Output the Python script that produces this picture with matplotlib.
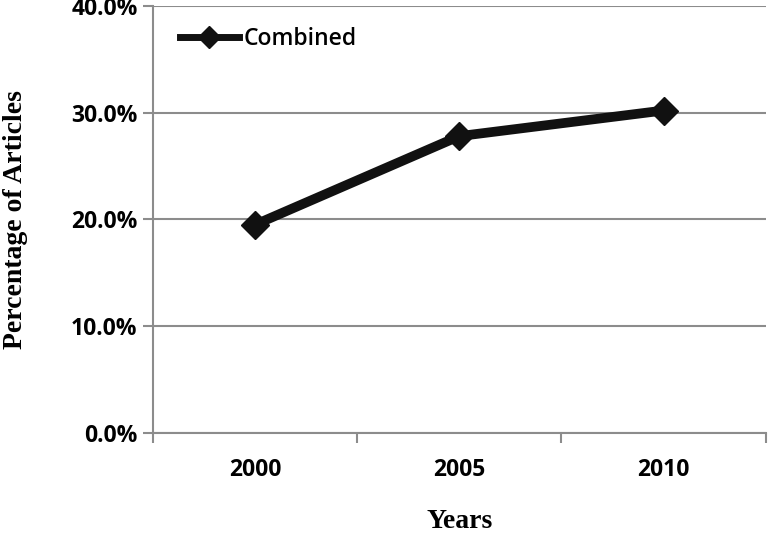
import matplotlib
matplotlib.use("Agg")
import matplotlib.pyplot as plt
from matplotlib.ticker import FuncFormatter, FixedLocator

years = ["2000", "2005", "2010"]
combined = [19.5, 27.8, 30.2]
yticks = [0, 10, 20, 30, 40]

fig = plt.figure(figsize=(7.68, 5.39), dpi=100)
ax = fig.add_axes([0.199, 0.197, 0.798, 0.792])

x = list(range(len(years)))
ax.plot(x, combined, color="#111111", lw=7, marker="D", ms=14, label="Combined",
        solid_joinstyle="miter", zorder=3)

ax.set_xlim(-0.5, len(years) - 0.5)
ax.set_ylim(0, 40)
ax.yaxis.set_major_locator(FixedLocator(yticks))
ax.yaxis.set_major_formatter(FuncFormatter(lambda v, p: f"{v:.1f}%"))
ax.grid(axis="y", color="#8c8c8c", lw=1.5)
ax.set_axisbelow(True)

ax.set_xticks(x)
ax.set_xticklabels(years)
ax.set_xticks([i - 0.5 for i in range(len(years) + 1)], minor=True)
ax.tick_params(axis="x", which="major", length=0, pad=18)
ax.tick_params(axis="x", which="minor", length=7, width=1.5, color="#8c8c8c", direction="out")
ax.tick_params(axis="y", length=7, width=1.5, color="#8c8c8c", pad=4)

for s in ["top", "right"]:
    ax.spines[s].set_visible(False)
for s in ["left", "bottom"]:
    ax.spines[s].set_color("#8c8c8c")
    ax.spines[s].set_linewidth(1.5)

for lab in ax.get_xticklabels() + ax.get_yticklabels():
    lab.set_fontfamily("Open Sans")
    lab.set_fontweight("bold")
    lab.set_fontsize(16.5)

ax.set_xlabel("Years", fontfamily="Liberation Serif", fontweight="bold", fontsize=20)
ax.set_ylabel("Percentage of Articles", fontfamily="Liberation Serif", fontweight="bold", fontsize=20)
ax.xaxis.set_label_coords(0.5, -0.178)
ax.yaxis.set_label_coords(-0.204, 0.5)

leg = ax.legend(loc="upper left", frameon=False, bbox_to_anchor=(0.01, 1.0),
                handlelength=2.6, handletextpad=0.2,
                prop={"family": "Open Sans", "size": 16.5, "weight": "semibold"})
for h in leg.legend_handles:
    h.set_linewidth(5)
    h.set_markersize(11)

fig.savefig("out.png", dpi=100)
